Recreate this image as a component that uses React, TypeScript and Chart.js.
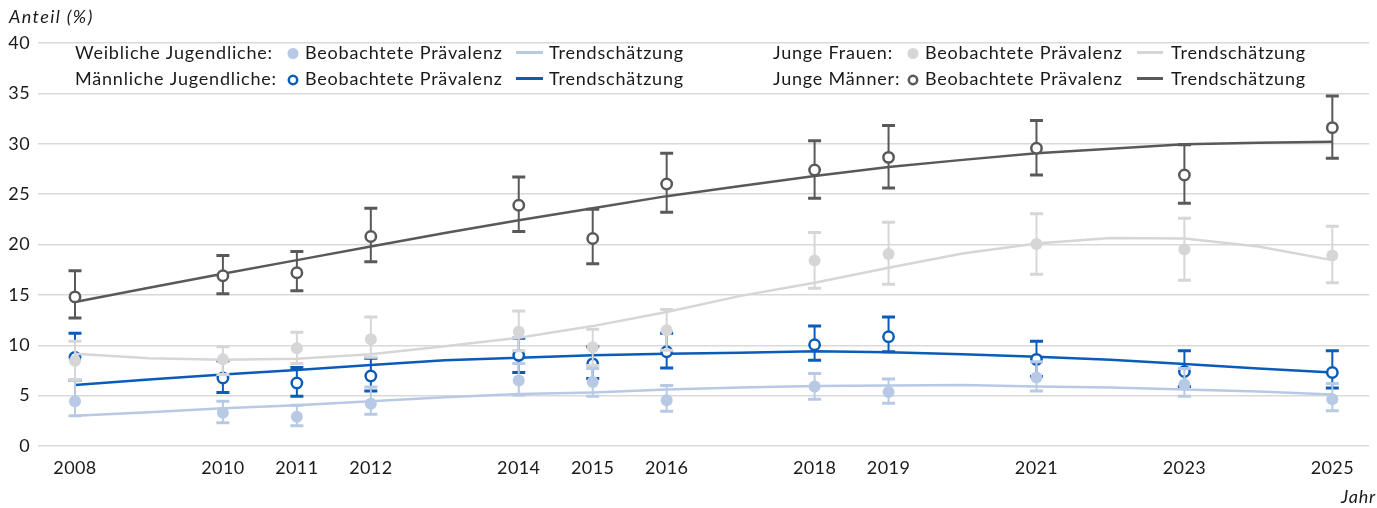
import React, { useEffect, useRef } from "react";
import { Chart, registerables } from "chart.js";

Chart.register(...registerables);

// ---------- data ----------
const obsYears = [2008, 2010, 2011, 2012, 2014, 2015, 2016, 2018, 2019, 2021, 2023, 2025];
const trendYears = [2008, 2009, 2010, 2011, 2012, 2013, 2014, 2015, 2016, 2017, 2018, 2019, 2020, 2021, 2022, 2023, 2024, 2025];
const xTickYears = [2008, 2010, 2011, 2012, 2014, 2015, 2016, 2018, 2019, 2021, 2023, 2025];

// Weibliche Jugendliche
const wjObs = [4.45, 3.3, 2.9, 4.2, 6.5, 6.35, 4.55, 5.9, 5.35, 6.8, 6.1, 4.65];
const wjLo = [3.0, 2.3, 2.0, 3.15, 5.05, 4.95, 3.45, 4.65, 4.25, 5.45, 4.95, 3.5];
const wjHi = [6.5, 4.45, 4.05, 5.85, 8.2, 7.7, 6.0, 7.2, 6.65, 8.35, 7.7, 6.2];
const wjTrend = [3.0, 3.35, 3.75, 4.05, 4.45, 4.85, 5.15, 5.3, 5.6, 5.8, 5.95, 6.0, 6.05, 5.9, 5.8, 5.6, 5.4, 5.1];

// Männliche Jugendliche
const mjObs = [8.8, 6.75, 6.25, 6.95, 9.0, 8.15, 9.35, 10.05, 10.85, 8.6, 7.4, 7.3];
const mjLo = [6.5, 5.3, 4.95, 5.45, 7.3, 6.7, 7.75, 8.5, 9.35, 6.9, 5.9, 5.75];
const mjHi = [11.2, 8.45, 7.8, 8.7, 10.7, 9.85, 11.2, 11.9, 12.8, 10.4, 9.45, 9.45];
const mjTrend = [6.05, 6.6, 7.1, 7.55, 8.05, 8.5, 8.75, 9.0, 9.15, 9.25, 9.4, 9.3, 9.1, 8.85, 8.55, 8.15, 7.7, 7.3];

// Junge Frauen
const jfObs = [8.45, 8.6, 9.7, 10.6, 11.35, 9.8, 11.5, 18.4, 19.05, 20.05, 19.5, 18.9];
const jfLo = [6.6, 7.1, 8.2, 8.8, 9.45, 8.0, 9.5, 15.65, 16.05, 17.05, 16.45, 16.2];
const jfHi = [10.4, 9.85, 11.3, 12.8, 13.4, 11.6, 13.55, 21.2, 22.2, 23.05, 22.6, 21.8];
const jfTrend = [9.15, 8.7, 8.55, 8.65, 9.1, 9.9, 10.75, 11.9, 13.3, 14.9, 16.2, 17.7, 19.1, 20.1, 20.65, 20.6, 19.8, 18.45];

// Junge Männer
const jmObs = [14.8, 16.9, 17.2, 20.8, 23.9, 20.6, 26.0, 27.4, 28.65, 29.55, 26.9, 31.6];
const jmLo = [12.7, 15.1, 15.4, 18.3, 21.3, 18.1, 23.2, 24.6, 25.6, 26.9, 24.1, 28.55];
const jmHi = [17.4, 18.9, 19.3, 23.6, 26.7, 23.5, 29.05, 30.3, 31.8, 32.3, 29.9, 34.75];
const jmTrend = [14.3, 15.7, 17.1, 18.45, 19.8, 21.15, 22.4, 23.6, 24.8, 25.8, 26.8, 27.7, 28.4, 29.05, 29.5, 29.95, 30.1, 30.2];

const yTitle = "Anteil (%)";
const xTitle = "Jahr";
const legendGroupLabels = ["Weibliche Jugendliche:", "Männliche Jugendliche:", "Junge Frauen:", "Junge Männer:"];
const legendObsLabel = "Beobachtete Prävalenz";
const legendTrendLabel = "Trendschätzung";

// ---------- styles ----------
const C_LIGHTBLUE = "#b8c9e5";
const C_BLUE = "#0a5cb8";
const C_LIGHTGRAY = "#d6d6d6";
const C_DARKGRAY = "#595959";
const FONT = 'Lato, "Noto Sans", sans-serif';
const TEXT = "#1a1a1a";

const pts = (xs: number[], ys: number[]) => xs.map((x, i) => ({ x, y: ys[i] }));

const errorBarPlugin = {
  id: "errorBars",
  beforeDatasetDraw(chart: any, args: any) {
    const ds: any = chart.data.datasets[args.index];
    if (!ds.errLo) return;
    const meta = args.meta;
    const ys = chart.scales.y;
    const ctx = chart.ctx;
    ctx.save();
    ctx.strokeStyle = ds.errColor;
    meta.data.forEach((el: any, i: number) => {
      const x = el.x;
      const yl = ys.getPixelForValue(ds.errLo[i]);
      const yh = ys.getPixelForValue(ds.errHi[i]);
      ctx.lineWidth = 2;
      ctx.beginPath();
      ctx.moveTo(x, yl);
      ctx.lineTo(x, yh);
      ctx.stroke();
      ctx.lineWidth = 3;
      ctx.beginPath();
      ctx.moveTo(x - 6.5, yl);
      ctx.lineTo(x + 6.5, yl);
      ctx.moveTo(x - 6.5, yh);
      ctx.lineTo(x + 6.5, yh);
      ctx.stroke();
    });
    ctx.restore();
  },
};

const overlayPlugin = {
  id: "overlay",
  beforeDraw(chart: any) {
    (chart.ctx as any).letterSpacing = "0.4px";
  },
  afterDraw(chart: any) {
    const ctx: any = chart.ctx;
    ctx.save();
    ctx.fillStyle = TEXT;
    ctx.textBaseline = "middle";
    ctx.font = `italic 18px ${FONT}`;
    ctx.letterSpacing = "1.4px";
    ctx.textAlign = "left";
    ctx.fillText(yTitle, 9, 17);
    ctx.letterSpacing = "0.8px";
    ctx.textAlign = "right";
    ctx.fillText(xTitle, 1376, 497);

    ctx.font = `18px ${FONT}`;
    ctx.letterSpacing = "0.8px";
    ctx.textAlign = "left";
    const rows = [53, 79];
    const groups = [
      { lx: 75, mx: 293, tx: 305, l1: 516, l2: 543, tt: 549, colors: [C_LIGHTBLUE, C_BLUE], labels: [legendGroupLabels[0], legendGroupLabels[1]] },
      { lx: 773, mx: 913, tx: 925, l1: 1137, l2: 1163, tt: 1171, colors: [C_LIGHTGRAY, C_DARKGRAY], labels: [legendGroupLabels[2], legendGroupLabels[3]] },
    ];
    groups.forEach((g) => {
      rows.forEach((ry, r) => {
        const col = g.colors[r];
        ctx.fillStyle = TEXT;
        ctx.fillText(g.labels[r], g.lx, ry);
        ctx.fillText(legendObsLabel, g.tx, ry);
        ctx.fillText(legendTrendLabel, g.tt, ry);
        // marker
        ctx.beginPath();
        if (r === 0) {
          ctx.arc(g.mx, ry + 0.5, 5.5, 0, Math.PI * 2);
          ctx.fillStyle = col;
          ctx.fill();
        } else {
          ctx.arc(g.mx, ry + 1, 4.2, 0, Math.PI * 2);
          ctx.fillStyle = "#fff";
          ctx.fill();
          ctx.lineWidth = 2.5;
          ctx.strokeStyle = col;
          ctx.stroke();
        }
        ctx.beginPath();
        ctx.lineWidth = 3;
        ctx.strokeStyle = col;
        ctx.moveTo(g.l1, ry - 0.5);
        ctx.lineTo(g.l2, ry - 0.5);
        ctx.stroke();
      });
    });
    ctx.restore();
    ctx.letterSpacing = "0px";
  },
};

export default function App() {
  const ref = useRef<HTMLCanvasElement | null>(null);
  useEffect(() => {
    document.body.style.margin = "0";
    const canvas = ref.current;
    if (!canvas) return;

    const obsDs = (label: string, ys: number[], lo: number[], hi: number[], color: string, open: boolean, order: number) => ({
      label,
      data: pts(obsYears, ys),
      showLine: false,
      order,
      errLo: lo,
      errHi: hi,
      errColor: color,
      pointRadius: open ? 5.2 : 6,
      pointBackgroundColor: open ? "#ffffff" : color,
      pointBorderColor: color,
      pointBorderWidth: open ? 2.5 : 0,
      borderColor: color,
      backgroundColor: color,
    });
    const trendDs = (label: string, ys: number[], color: string, order: number) => ({
      label,
      data: pts(trendYears, ys),
      order,
      borderColor: color,
      borderWidth: 2.5,
      pointRadius: 0,
      tension: 0,
      fill: false,
    });

    const chart = new Chart(canvas, {
      type: "line",
      data: {
        datasets: [
          obsDs("Junge Frauen", jfObs, jfLo, jfHi, C_LIGHTGRAY, false, 0),
          trendDs("Junge Frauen Trend", jfTrend, C_LIGHTGRAY, 1),
          obsDs("Weibliche Jugendliche", wjObs, wjLo, wjHi, C_LIGHTBLUE, false, 2),
          trendDs("Weibliche Jugendliche Trend", wjTrend, C_LIGHTBLUE, 3),
          obsDs("Männliche Jugendliche", mjObs, mjLo, mjHi, C_BLUE, true, 4),
          trendDs("Männliche Jugendliche Trend", mjTrend, C_BLUE, 5),
          obsDs("Junge Männer", jmObs, jmLo, jmHi, C_DARKGRAY, true, 6),
          trendDs("Junge Männer Trend", jmTrend, C_DARKGRAY, 7),
        ] as any,
      },
      options: {
        animation: false,
        responsive: false,
        devicePixelRatio: 1,
        layout: { padding: { top: 43, left: 0, right: 0, bottom: 0 } },
        plugins: { legend: { display: false }, tooltip: { enabled: false } },
        scales: {
          x: {
            type: "linear",
            min: 2007.5,
            max: 2025.5,
            afterBuildTicks: (scale: any) => {
              scale.ticks = xTickYears.map((v) => ({ value: v }));
            },
            afterFit: (scale: any) => {
              scale.height = 62;
            },
            grid: { display: false, drawTicks: false },
            border: { display: false },
            ticks: {
              autoSkip: false,
              maxRotation: 0,
              padding: 11,
              color: TEXT,
              font: { family: FONT, size: 18 },
              callback: (v: any) => String(v),
            },
          },
          y: {
            min: 0,
            max: 40,
            afterFit: (scale: any) => {
              scale.width = 38;
            },
            grid: { color: "#d9d9d9", lineWidth: 1.5, drawTicks: false },
            border: { display: false },
            ticks: {
              stepSize: 5,
              padding: 8,
              color: TEXT,
              font: { family: FONT, size: 18 },
            },
          },
        },
      } as any,
      plugins: [errorBarPlugin, overlayPlugin],
    });
    return () => chart.destroy();
  }, []);

  return (
    <div style={{ width: 1377, height: 508, background: "#fff" }}>
      <canvas ref={ref} width={1377} height={508} style={{ display: "block" }} />
    </div>
  );
}
